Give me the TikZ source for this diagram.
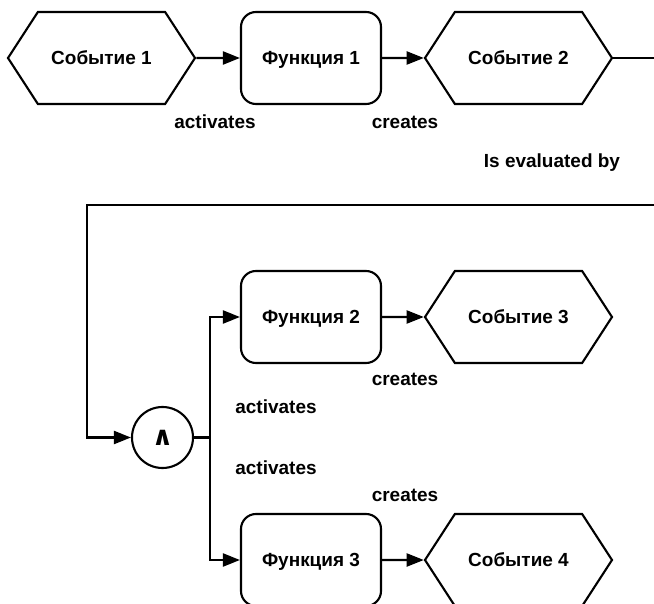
\documentclass[tikz,border=0pt]{standalone}
\usepackage{fontspec}
\setmainfont{Liberation Sans}
\newfontfamily\opfont{DejaVu Sans}
\usetikzlibrary{shapes,arrows.meta,positioning,calc}

\tikzset{
  base/.style={line width=1.2pt, text depth=0pt, font=\fontsize{10.8}{13}\bfseries\selectfont},
  event/.style={base, draw, signal, signal to=west and east, signal pointer angle=114,
    minimum width=3.74cm, minimum height=1.84cm, inner sep=0pt},
  func/.style={base, draw, rounded corners=0.3cm, minimum width=2.8cm, minimum height=1.84cm},
  gate/.style={base, draw, circle, minimum size=1.22cm, inner sep=0pt},
  flow/.style={line width=1.2pt, -{Triangle[length=0.34cm,width=0.26cm]}},
  link/.style={line width=1.2pt},
  lbl/.style={font=\fontsize{10.8}{13}\bfseries\selectfont}
}

\begin{document}
\begin{tikzpicture}
    \clip (0,0) rectangle (13.08,12.06);

    % Upper chain
    \node[event] (ev1) at (2.03,10.9) {Событие 1};
    \node[func]  (fn1) at (6.22,10.9) {Функция 1};
    \node[event] (ev2) at (10.37,10.9) {Событие 2};
    \draw[flow] (ev1) -- (fn1);
    \draw[flow] (fn1) -- (ev2);
    \node[lbl] (l1) at (4.3,9.62) {activates};
    \node[lbl] (l2) at (8.1,9.62) {creates};
    \node[lbl] (l3) at (11.04,8.8) {Is evaluated by};

    % Loop back to the AND split
    \node[gate] (and) at (3.25,3.31) {\opfont\fontsize{15}{15}\bfseries\selectfont ∧};
    \coordinate (loopR) at (13.4,7.96);
    \coordinate (loopL) at (1.74,7.96);
    \draw[flow] (ev2.east) -| (loopR) -- (loopL) |- (and);

    % Lower branches
    \node[func]  (fn2) at (6.22,5.72) {Функция 2};
    \node[event] (ev3) at (10.37,5.72) {Событие 3};
    \node[func]  (fn3) at (6.22,0.86) {Функция 3};
    \node[event] (ev4) at (10.37,0.86) {Событие 4};
    \coordinate (split) at (4.2,3.31);
    \draw[link] (and) -- (split);
    \draw[flow] (split) |- (fn2);
    \draw[flow] (split) |- (fn3);
    \draw[flow] (fn2) -- (ev3);
    \draw[flow] (fn3) -- (ev4);
    \node[lbl] (l4) at (8.1,4.48) {creates};
    \node[lbl] (l5) at (5.52,3.92) {activates};
    \node[lbl] (l6) at (5.52,2.7) {activates};
    \node[lbl] (l7) at (8.1,2.16) {creates};
\end{tikzpicture}
\end{document}
